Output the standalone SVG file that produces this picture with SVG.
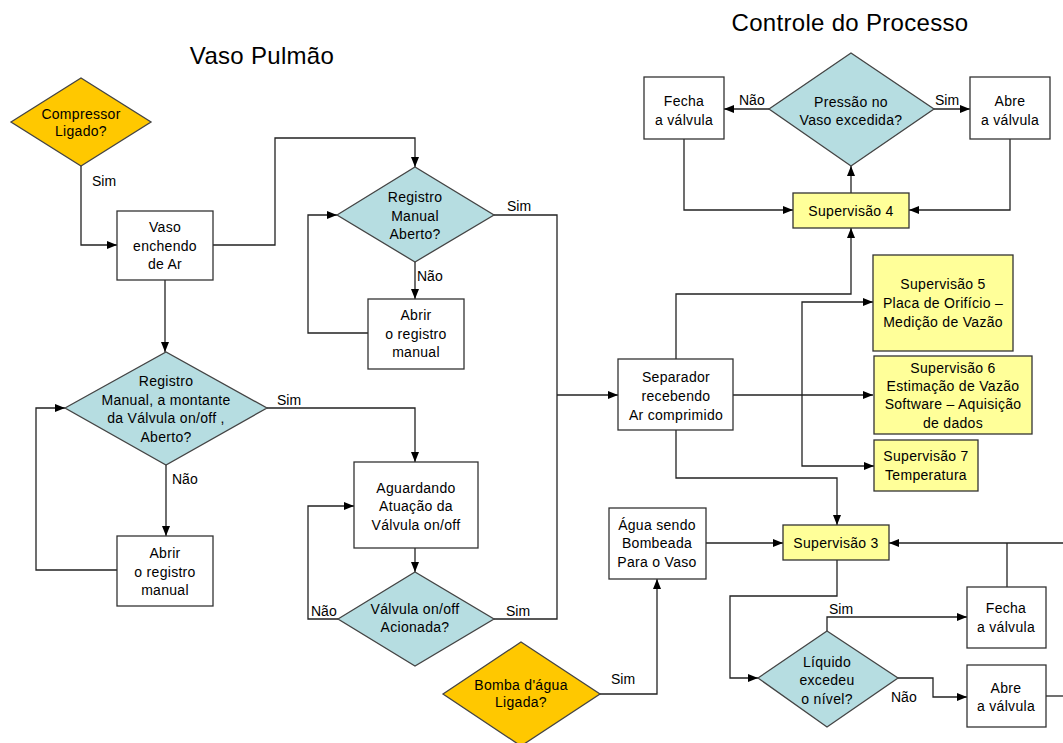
<svg xmlns="http://www.w3.org/2000/svg" width="1063" height="743" viewBox="0 0 1063 743">
<defs>
<marker id="ah" markerUnits="userSpaceOnUse" markerWidth="10" markerHeight="10" viewBox="0 0 10 10" refX="10" refY="5" orient="auto">
<path d="M0,1 L10,5 L0,9 z" fill="#000"/>
</marker>
<style>
text{font-family:"Liberation Sans",Arial,sans-serif;fill:#000}
.t{font-size:14px;text-anchor:middle;letter-spacing:0.3px}
.lb{font-size:14px}
.title{font-size:24px;text-anchor:middle;letter-spacing:0.3px}
.box{fill:#fff;stroke:#333;stroke-width:1.3}
.sup{fill:#ffff99;stroke:#333;stroke-width:1.3}
.dia{fill:#b6dde1;stroke:#444;stroke-width:1.3}
.gold{fill:#ffc800;stroke:#444;stroke-width:1.3}
.c{fill:none;stroke:#222;stroke-width:1.3}
.ca{fill:none;stroke:#222;stroke-width:1.3;marker-end:url(#ah)}
</style>
</defs>
<rect width="1063" height="743" fill="#fff"/>
<text class="title" x="262" y="64">Vaso Pulmão</text>
<text class="title" x="850" y="31">Controle do Processo</text>

<g id="connectors">
<path class="ca" d="M81,166 V245 H117"/>
<path class="ca" d="M213,245 H275 V138 H415 V167"/>
<path class="c" d="M494,215 H557 V619 H494"/>
<path class="ca" d="M557,395 H618"/>
<path class="ca" d="M415,262 V299"/>
<path class="ca" d="M368,333 H308 V215 H337"/>
<path class="ca" d="M165,280 V352"/>
<path class="ca" d="M267,408 H415 V462"/>
<path class="ca" d="M166,465 V536"/>
<path class="ca" d="M117,570 H36 V408 H65"/>
<path class="ca" d="M415,548 V572"/>
<path class="ca" d="M338,619 H308 V506 H354"/>
<path class="ca" d="M600,694 H657 V579"/>
<path class="ca" d="M706,543 H783"/>
<path class="ca" d="M676,359 V294 H851 V228"/>
<path class="ca" d="M733,395 H873"/>
<path class="ca" d="M802,395 V302 H873"/>
<path class="ca" d="M802,395 V466 H874"/>
<path class="ca" d="M676,430 V478 H837 V525"/>
<path class="ca" d="M851,193 V166"/>
<path class="ca" d="M769,109 H724"/>
<path class="ca" d="M934,109 H970"/>
<path class="ca" d="M684,139 V210 H793"/>
<path class="ca" d="M1010,139 V210 H909"/>
<path class="ca" d="M1063,543 H889"/>
<path class="c" d="M1007,543 V587"/>
<path class="c" d="M1046,696 H1063"/>
<path class="ca" d="M837,560 V596 H730 V678 H758"/>
<path class="ca" d="M827,631 V617 H967"/>
<path class="ca" d="M898,678 H933 V697 H967"/>
</g>

<g id="labels">
<text class="lb" x="92" y="186">Sim</text>
<text class="lb" x="507" y="211">Sim</text>
<text class="lb" x="417" y="281">Não</text>
<text class="lb" x="277" y="405">Sim</text>
<text class="lb" x="172" y="484">Não</text>
<text class="lb" x="311" y="616">Não</text>
<text class="lb" x="506" y="616">Sim</text>
<text class="lb" x="611" y="684">Sim</text>
<text class="lb" x="739" y="105">Não</text>
<text class="lb" x="935" y="105">Sim</text>
<text class="lb" x="829" y="614">Sim</text>
<text class="lb" x="891" y="702">Não</text>
</g>

<g id="n-compressor">
<polygon class="gold" points="11,122 81,78 151,122 81,166"/>
<text class="t" x="81" y="119">Compressor</text>
<text class="t" x="81" y="136">Ligado?</text>
</g>
<g id="n-vaso">
<rect class="box" x="117" y="211" width="96" height="69"/>
<text class="t" x="165" y="232">Vaso</text>
<text class="t" x="165" y="251">enchendo</text>
<text class="t" x="165" y="269">de Ar</text>
</g>
<g id="n-reg1">
<polygon class="dia" points="337,215 415,167 494,215 415,262"/>
<text class="t" x="415" y="202">Registro</text>
<text class="t" x="415" y="221">Manual</text>
<text class="t" x="415" y="239">Aberto?</text>
</g>
<g id="n-abrir1">
<rect class="box" x="368" y="299" width="96" height="70"/>
<text class="t" x="416" y="320">Abrir</text>
<text class="t" x="416" y="339">o registro</text>
<text class="t" x="416" y="357">manual</text>
</g>
<g id="n-reg2">
<polygon class="dia" points="65,408 166,352 267,408 166,465"/>
<text class="t" x="166" y="386">Registro</text>
<text class="t" x="166" y="405">Manual, a montante</text>
<text class="t" x="166" y="423">da Válvula on/off ,</text>
<text class="t" x="166" y="442">Aberto?</text>
</g>
<g id="n-abrir2">
<rect class="box" x="117" y="536" width="96" height="70"/>
<text class="t" x="165" y="558">Abrir</text>
<text class="t" x="165" y="577">o registro</text>
<text class="t" x="165" y="595">manual</text>
</g>
<g id="n-aguardando">
<rect class="box" x="354" y="462" width="124" height="86"/>
<text class="t" x="416" y="493">Aguardando</text>
<text class="t" x="416" y="511">Atuação da</text>
<text class="t" x="416" y="530">Válvula on/off</text>
</g>
<g id="n-acionada">
<polygon class="dia" points="338,619 415,572 494,619 415,666"/>
<text class="t" x="415" y="614">Válvula on/off</text>
<text class="t" x="415" y="632">Acionada?</text>
</g>
<g id="n-bomba">
<polygon class="gold" points="443,694 521,642 600,694 521,746"/>
<text class="t" x="521" y="690">Bomba d'água</text>
<text class="t" x="521" y="707">Ligada?</text>
</g>
<g id="n-agua">
<rect class="box" x="609" y="508" width="97" height="71"/>
<text class="t" x="657" y="530">Água sendo</text>
<text class="t" x="657" y="548">Bombeada</text>
<text class="t" x="657" y="567">Para o Vaso</text>
</g>
<g id="n-separador">
<rect class="box" x="618" y="359" width="115" height="71"/>
<text class="t" x="676" y="382">Separador</text>
<text class="t" x="676" y="401">recebendo</text>
<text class="t" x="676" y="420">Ar comprimido</text>
</g>
<g id="n-sup5">
<rect class="sup" x="873" y="255" width="140" height="96"/>
<text class="t" x="943" y="289">Supervisão 5</text>
<text class="t" x="943" y="308">Placa de Orifício –</text>
<text class="t" x="943" y="327">Medição de Vazão</text>
</g>
<g id="n-sup6">
<rect class="sup" x="874" y="356" width="158" height="78"/>
<text class="t" x="953" y="373">Supervisão 6</text>
<text class="t" x="953" y="391">Estimação de Vazão</text>
<text class="t" x="953" y="409">Software – Aquisição</text>
<text class="t" x="953" y="428">de dados</text>
</g>
<g id="n-sup7">
<rect class="sup" x="874" y="440" width="104" height="51"/>
<text class="t" x="926" y="461">Supervisão 7</text>
<text class="t" x="926" y="480">Temperatura</text>
</g>
<g id="n-sup4">
<rect class="sup" x="793" y="193" width="116" height="35"/>
<text class="t" x="851" y="216">Supervisão 4</text>
</g>
<g id="n-pressao">
<polygon class="dia" points="769,109 851,53 934,109 851,166"/>
<text class="t" x="851" y="107">Pressão no</text>
<text class="t" x="851" y="125">Vaso excedida?</text>
</g>
<g id="n-fecha1">
<rect class="box" x="644" y="77" width="80" height="62"/>
<text class="t" x="684" y="106">Fecha</text>
<text class="t" x="684" y="125">a válvula</text>
</g>
<g id="n-abre1">
<rect class="box" x="970" y="77" width="80" height="62"/>
<text class="t" x="1010" y="106">Abre</text>
<text class="t" x="1010" y="125">a válvula</text>
</g>
<g id="n-sup3">
<rect class="sup" x="783" y="525" width="106" height="35"/>
<text class="t" x="836" y="548">Supervisão 3</text>
</g>
<g id="n-fecha2">
<rect class="box" x="967" y="587" width="79" height="61"/>
<text class="t" x="1006" y="613">Fecha</text>
<text class="t" x="1006" y="632">a válvula</text>
</g>
<g id="n-abre2">
<rect class="box" x="967" y="665" width="79" height="62"/>
<text class="t" x="1006" y="693">Abre</text>
<text class="t" x="1006" y="711">a válvula</text>
</g>
<g id="n-liquido">
<polygon class="dia" points="758,678 827,631 898,678 827,727"/>
<text class="t" x="827" y="667">Líquido</text>
<text class="t" x="827" y="685">excedeu</text>
<text class="t" x="827" y="704">o nível?</text>
</g>
</svg>
